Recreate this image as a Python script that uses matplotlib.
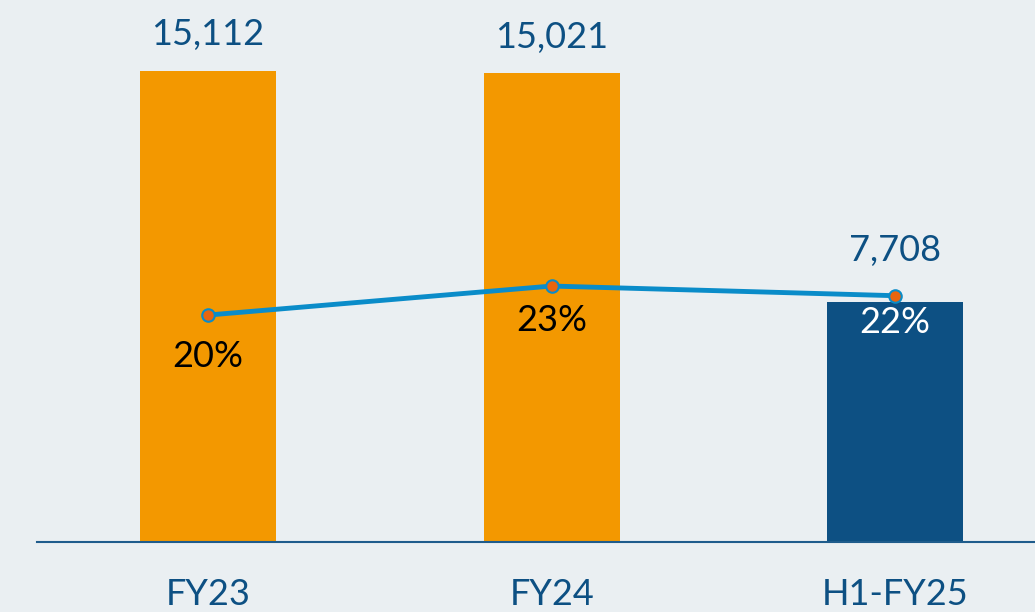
import numpy as np
import matplotlib.pyplot as plt

# chart data
periods = ["FY23", "FY24", "H1-FY25"]
values = [15112, 15021, 7708]
margins = [20, 23, 22]
bar_colors = ["#F39800", "#F39800", "#0D5083"]
pct_colors = ["black", "black", "white"]

plt.rcParams['font.family'] = ['Lato', 'DejaVu Sans']

fig = plt.figure(figsize=(10.35, 6.12), dpi=100)
fig.patch.set_facecolor("#EAEFF2")
ax = fig.add_axes([37/1035, 1-542/612, 1-37/1035, 542/612])
ax.set_facecolor("none")

x = np.arange(len(periods))
ax.bar(x, values, width=136/343.5, color=bar_colors, zorder=2)
ax.set_xlim(-0.498, 2.407)
ax.set_ylim(0, 17372)

val_offsets = [26, 26, 37]
for i in range(len(values)):
    ax.annotate("{:,}".format(values[i]), (x[i], values[i]), xytext=(0, val_offsets[i]),
                textcoords="offset points", ha="center", va="center",
                fontsize=26, color="#0D5083")

ax.set_xticks(x)
ax.set_xticklabels(periods, fontsize=26, color="#0D5083")
ax.tick_params(axis="x", length=0, pad=26)
ax.set_yticks([])
for s in ["top", "right", "left"]:
    ax.spines[s].set_visible(False)
ax.spines["bottom"].set_color("#1F5C8C")
ax.spines["bottom"].set_linewidth(1.5)

# margin line on secondary axis
ax2 = ax.twinx()
ax2.set_ylim(-3.47, 52.58)
ax2.plot(x, margins, color="#0A8CC9", linewidth=3.5, marker="o", markersize=9,
         markerfacecolor="#E8650F", markeredgecolor="#0A8CC9", markeredgewidth=1.5, zorder=3)
pct_offsets = [-29.5, -24.5, -19]
for i in range(len(margins)):
    ax2.annotate("{}%".format(margins[i]), (x[i], margins[i]), xytext=(0, pct_offsets[i]),
                 textcoords="offset points", ha="center", va="center",
                 fontsize=26, color=pct_colors[i])
ax2.set_yticks([])
for s in ax2.spines.values():
    s.set_visible(False)

plt.savefig("out.png", dpi=100, facecolor=fig.get_facecolor())
